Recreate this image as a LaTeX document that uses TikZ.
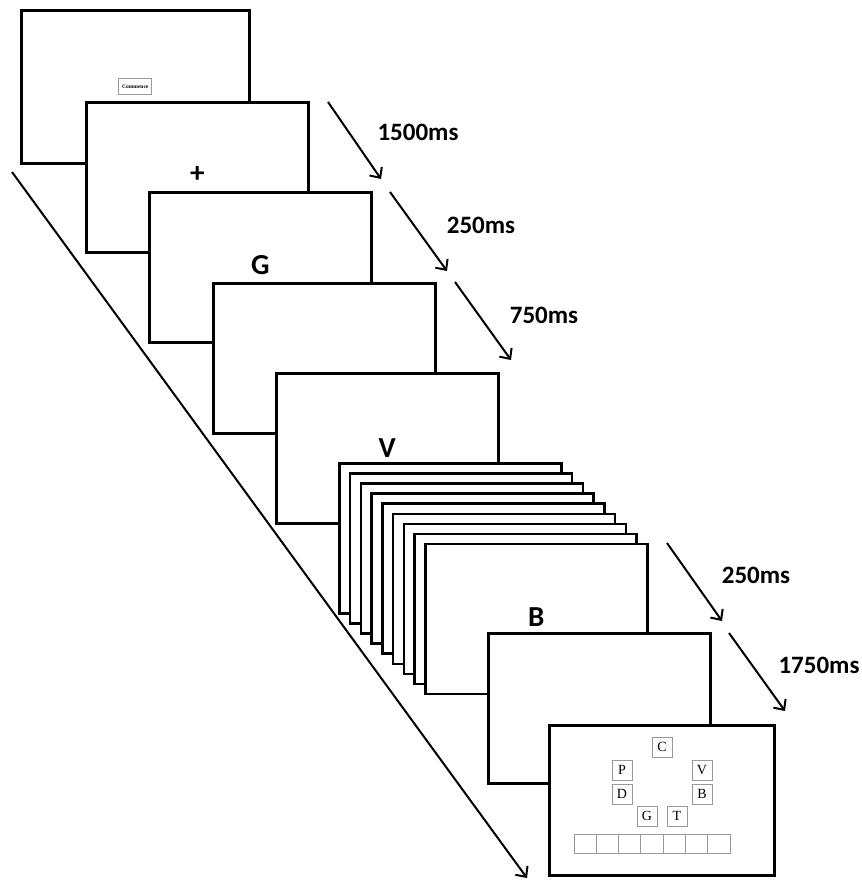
\documentclass[tikz,border=0pt]{standalone}
\usepackage{fontspec}
\setmainfont{Liberation Serif}
\newfontfamily\cuefont{Carlito}
\usetikzlibrary{arrows.meta}
\begin{document}
\begin{tikzpicture}[x=1pt,y=-1pt,
  frame/.style={draw,line width=2.6pt,fill=white,minimum width=222pt,minimum height=150pt,inner sep=0pt,anchor=north west},
  cue/.style={font=\cuefont\bfseries\fontsize{29}{29}\selectfont,inner sep=0pt},
  timearrow/.style={line width=2pt,arrows={-Straight Barb[length=8pt,width=15pt,line width=2pt]}},
  timelabel/.style={font=\cuefont\bfseries\fontsize{25}{25}\selectfont,inner sep=0pt},
  letterbox/.style={draw=black!40,line width=1pt,minimum size=20pt,inner sep=0pt,font=\fontsize{14}{14}\selectfont}]
\useasboundingbox (0,0) rectangle (862,881);
% screens
\node[frame,minimum width=228pt,minimum height=153pt] (f1) at (20,9) {};
\node[draw=black!40,line width=0.8pt,minimum width=33pt,minimum height=16pt,inner sep=0pt,font=\bfseries\fontsize{5.5}{5.5}\selectfont] (start) at (f1.center) {Commence};
\node[frame] (f2) at (85,101) {};
\node[cue] (plus) at ([yshift=3pt]f2.center) {+};
\node[frame] (f3) at (148,191) {};
\node[cue] (cueG) at ([yshift=2pt]f3.center) {G};
\node[frame] (f4) at (212,282) {};
\node[frame] (f5) at (275,372) {};
\node[cue] (cueV) at (f5.center) {V};
\foreach \i in {0,...,8}
    \node[frame] (s\i) at ({338+10.75*\i},{462+10.1*\i}) {};
\node[cue] (cueB) at ([yshift=2pt]s8.center) {B};
\node[frame] (f6) at (487,632) {};
\node[frame,minimum width=225pt] (f7) at (548,724) {};
% recall screen
\foreach \l/\px/\py in {C/662/747,P/622/770,V/702/770,D/622/794,B/702/794,G/647/816,T/677/816}
    \node[letterbox] (box\l) at (\px,\py) {\l};
\foreach \i in {0,...,6}
    \node[letterbox,minimum width=22.3pt,minimum height=19pt] (slot\i) at ({585.2+22.3*\i},843.5) {};
% time line
\coordinate (lineA) at (12,172);
\coordinate (lineB) at (527,878);
\draw[timearrow] (lineA) -- (lineB);
\foreach \n/\sx/\sy/\ex/\ey in {1/328/102/381/179,2/390/192/447/271,3/455/282/511/360,4/667/543/722/621,5/729/633/785/711} {
    \coordinate (t\n a) at (\sx,\sy);
    \coordinate (t\n b) at (\ex,\ey);
    \draw[timearrow] (t\n a) -- (t\n b);
}
\node[timelabel] (d1) at (418,132) {1500ms};
\node[timelabel] (d2) at (481,225) {250ms};
\node[timelabel] (d3) at (544,315) {750ms};
\node[timelabel] (d4) at (756,575) {250ms};
\node[timelabel] (d5) at (819,665) {1750ms};
\end{tikzpicture}
\end{document}
